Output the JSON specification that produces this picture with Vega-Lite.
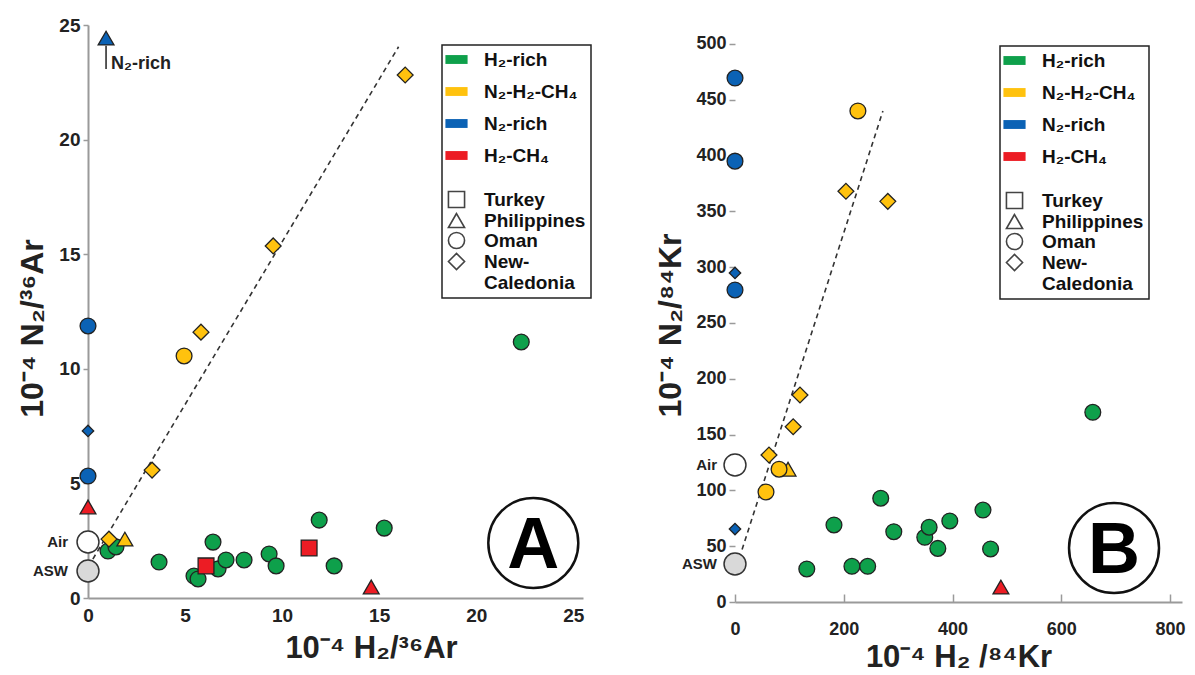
{
  "$schema": "https://vega.github.io/schema/vega-lite/v6.json",
  "background": "white",
  "padding": {"left": 16, "top": 16, "right": 5, "bottom": 3},
  "config": {
    "view": {"stroke": null},
    "font": "Liberation Sans",
    "axis": {"grid": false, "labelFont": "Liberation Sans", "titleFont": "Liberation Sans", "labelFontWeight": "bold", "titleFontWeight": "bold", "labelColor": "#222", "titleColor": "#222", "domainColor": "#9a9a9a", "domainWidth": 2, "tickColor": "#9a9a9a", "tickWidth": 1.5, "labelOverlap": false, "labelFlush": false},
    "legend": {
      "orient": "none", "strokeColor": "#222", "strokeWidth": 1.5, "padding": 5, "fillColor": "#ffffff",
      "labelFont": "Liberation Sans", "labelFontWeight": "bold", "labelFontSize": 19, "labelColor": "#111", "labelOffset": 18, "rowPadding": -4,
      "symbolSize": 260, "symbolOpacity": 1, "symbolStrokeWidth": 1.6
    }
  },
  "datasets": {
    "a_pts": [
      {"group": "H₂-rich", "country": "Oman", "x": 1.03, "y": 2.05},
      {"group": "H₂-rich", "country": "Oman", "x": 1.44, "y": 2.23},
      {"group": "H₂-rich", "country": "Oman", "x": 3.66, "y": 1.57},
      {"group": "H₂-rich", "country": "Oman", "x": 5.46, "y": 0.96},
      {"group": "H₂-rich", "country": "Oman", "x": 5.67, "y": 0.83},
      {"group": "H₂-rich", "country": "Oman", "x": 6.44, "y": 2.44},
      {"group": "H₂-rich", "country": "Oman", "x": 6.7, "y": 1.27},
      {"group": "H₂-rich", "country": "Oman", "x": 7.11, "y": 1.66},
      {"group": "H₂-rich", "country": "Oman", "x": 8.04, "y": 1.66},
      {"group": "H₂-rich", "country": "Oman", "x": 9.33, "y": 1.92},
      {"group": "H₂-rich", "country": "Oman", "x": 9.69, "y": 1.4},
      {"group": "H₂-rich", "country": "Oman", "x": 11.91, "y": 3.4},
      {"group": "H₂-rich", "country": "Oman", "x": 12.68, "y": 1.4},
      {"group": "H₂-rich", "country": "Oman", "x": 15.26, "y": 3.05},
      {"group": "H₂-rich", "country": "Oman", "x": 22.32, "y": 11.17},
      {"group": "N₂-H₂-CH₄", "country": "New-Caledonia", "x": 1.08, "y": 2.57},
      {"group": "N₂-H₂-CH₄", "country": "Philippines", "x": 1.9, "y": 2.57},
      {"group": "N₂-H₂-CH₄", "country": "New-Caledonia", "x": 3.3, "y": 5.58},
      {"group": "N₂-H₂-CH₄", "country": "Oman", "x": 4.95, "y": 10.56},
      {"group": "N₂-H₂-CH₄", "country": "New-Caledonia", "x": 5.82, "y": 11.6},
      {"group": "N₂-H₂-CH₄", "country": "New-Caledonia", "x": 9.54, "y": 15.36},
      {"group": "N₂-H₂-CH₄", "country": "New-Caledonia", "x": 16.34, "y": 22.82},
      {"group": "N₂-rich", "country": "Philippines", "x": 0.93, "y": 24.43},
      {"group": "N₂-rich", "country": "Oman", "x": 0, "y": 11.87},
      {"group": "N₂-rich", "country": "New-Caledonia", "x": 0, "y": 7.29},
      {"group": "N₂-rich", "country": "Oman", "x": 0, "y": 5.32},
      {"group": "H₂-CH₄", "country": "Philippines", "x": 0, "y": 3.97},
      {"group": "H₂-CH₄", "country": "Turkey", "x": 6.08, "y": 1.4},
      {"group": "H₂-CH₄", "country": "Turkey", "x": 11.39, "y": 2.18},
      {"group": "H₂-CH₄", "country": "Philippines", "x": 14.59, "y": 0.48}
    ],
    "b_pts": [
      {"group": "H₂-rich", "country": "Oman", "x": 268, "y": 93},
      {"group": "H₂-rich", "country": "Oman", "x": 182, "y": 69},
      {"group": "H₂-rich", "country": "Oman", "x": 292, "y": 63},
      {"group": "H₂-rich", "country": "Oman", "x": 132, "y": 29.6},
      {"group": "H₂-rich", "country": "Oman", "x": 215, "y": 32},
      {"group": "H₂-rich", "country": "Oman", "x": 244, "y": 32},
      {"group": "H₂-rich", "country": "Oman", "x": 349, "y": 58},
      {"group": "H₂-rich", "country": "Oman", "x": 357, "y": 67},
      {"group": "H₂-rich", "country": "Oman", "x": 373, "y": 48},
      {"group": "H₂-rich", "country": "Oman", "x": 395, "y": 72.6},
      {"group": "H₂-rich", "country": "Oman", "x": 456, "y": 82.4},
      {"group": "H₂-rich", "country": "Oman", "x": 470, "y": 47.5},
      {"group": "H₂-rich", "country": "Oman", "x": 658, "y": 170},
      {"group": "N₂-H₂-CH₄", "country": "Oman", "x": 226, "y": 440},
      {"group": "N₂-H₂-CH₄", "country": "New-Caledonia", "x": 204, "y": 368},
      {"group": "N₂-H₂-CH₄", "country": "New-Caledonia", "x": 281, "y": 359},
      {"group": "N₂-H₂-CH₄", "country": "New-Caledonia", "x": 119.5, "y": 185.5},
      {"group": "N₂-H₂-CH₄", "country": "New-Caledonia", "x": 107, "y": 157},
      {"group": "N₂-H₂-CH₄", "country": "New-Caledonia", "x": 62.5, "y": 131.7},
      {"group": "N₂-H₂-CH₄", "country": "Philippines", "x": 97.5, "y": 119},
      {"group": "N₂-H₂-CH₄", "country": "Oman", "x": 81, "y": 119},
      {"group": "N₂-H₂-CH₄", "country": "Oman", "x": 57, "y": 98.6},
      {"group": "N₂-rich", "country": "Oman", "x": 0, "y": 469.5},
      {"group": "N₂-rich", "country": "Oman", "x": 0, "y": 395},
      {"group": "N₂-rich", "country": "New-Caledonia", "x": 0, "y": 294.8},
      {"group": "N₂-rich", "country": "Oman", "x": 0, "y": 279.6},
      {"group": "N₂-rich", "country": "New-Caledonia", "x": 0, "y": 65.4},
      {"group": "H₂-CH₄", "country": "Philippines", "x": 489, "y": 13.4}
    ],
    "a_refs": [
      {"label": "Air", "x": 0, "y": 2.44},
      {"label": "ASW", "x": 0, "y": 1.18}
    ],
    "b_refs": [
      {"label": "Air", "x": 0, "y": 122.8},
      {"label": "ASW", "x": 0, "y": 34}
    ],
    "a_line": [{"x": 0.25, "y": 1.7}, {"x": 16.0, "y": 24.05}],
    "b_line": [{"x": 13, "y": 47}, {"x": 272, "y": 440}],
    "a_arrow": [{"x": 0.93, "y": 23.08, "y2": 24.1}],
    "a_note": [{"x": 0.93, "y": 23.3, "label": "N₂-rich"}],
    "a_badge": [{"x": 22.94, "y": 2.4, "label": "A"}],
    "b_badge": [{"x": 697, "y": 48.4, "label": "B"}]
  },
  "resolve": {
    "scale": {"x": "independent", "y": "independent", "fill": "shared", "stroke": "shared", "shape": "shared"},
    "legend": {"fill": "independent", "stroke": "independent", "shape": "independent"}
  },
  "spacing": 62,
  "hconcat": [
    {
      "width": 495,
      "height": 573,
      "encoding": {
        "x": {"field": "x", "type": "quantitative", "scale": {"domain": [0, 25.5], "nice": false, "zero": true},
          "axis": {"values": [0, 5, 10, 15, 20, 25], "title": "10⁻⁴ H₂/³⁶Ar", "ticks": false, "labelPadding": 8, "labelFontSize": 19, "titleFontSize": 31, "titlePadding": 8, "titleX": 283}},
        "y": {"field": "y", "type": "quantitative", "scale": {"domain": [0, 25], "nice": false, "zero": true},
          "axis": {"values": [0, 5, 10, 15, 20, 25], "title": "10⁻⁴ N₂/³⁶Ar", "tickSize": 5, "labelPadding": 3, "labelFontSize": 19, "titleFontSize": 32, "titlePadding": 9, "titleY": 303}}
      },
      "layer": [
        {"data": {"name": "a_line"}, "mark": {"type": "line", "strokeDash": [5, 4], "color": "#333", "strokeWidth": 1.6}},
        {"data": {"name": "a_refs"}, "mark": {"type": "point", "shape": "circle", "filled": true, "size": 480, "stroke": "#333", "strokeWidth": 1.5, "opacity": 1},
          "encoding": {"fill": {"condition": {"test": "datum.label == 'Air'", "value": "#ffffff"}, "value": "#d9d9d9"}}},
        {"data": {"name": "a_refs"}, "mark": {"type": "text", "align": "right", "baseline": "middle", "dx": -20, "fontWeight": "bold", "fontSize": 15, "color": "#222"},
          "encoding": {"text": {"field": "label"}}},
        {"data": {"name": "a_arrow"}, "mark": {"type": "rule", "color": "#222", "strokeWidth": 1.5}, "encoding": {"y2": {"field": "y2"}}},
        {"data": {"name": "a_note"}, "mark": {"type": "text", "align": "left", "baseline": "middle", "dx": 5, "fontWeight": "bold", "fontSize": 18, "color": "#222"},
          "encoding": {"text": {"field": "label"}}},
        {"data": {"name": "a_pts"}, "mark": {"type": "point", "filled": true, "opacity": 0},
          "encoding": {
            "fill": {"field": "group", "type": "nominal", "legend": {"legendX": 354, "legendY": 20, "title": null, "labelExpr": "datum.label == 'New-Caledonia' ? ['New-', 'Caledonia'] : datum.label"}},
            "stroke": {"field": "group", "type": "nominal",
              "scale": {"domain": ["H₂-rich", "N₂-H₂-CH₄", "N₂-rich", "H₂-CH₄", "Turkey", "Philippines", "Oman", "New-Caledonia"],
                "range": ["transparent", "transparent", "transparent", "transparent", "#444444", "#444444", "#444444", "#444444"]},
              "legend": {"legendX": 354, "legendY": 20, "title": null, "labelExpr": "datum.label == 'New-Caledonia' ? ['New-', 'Caledonia'] : datum.label"}},
            "shape": {"field": "group", "type": "nominal", "legend": {"legendX": 354, "legendY": 20, "title": null, "labelExpr": "datum.label == 'New-Caledonia' ? ['New-', 'Caledonia'] : datum.label"}}
          }},
        {"data": {"name": "a_pts"}, "mark": {"type": "point", "filled": true, "stroke": "#222", "strokeWidth": 1.3, "opacity": 1},
          "encoding": {
            "fill": {"field": "group", "type": "nominal",
              "scale": {"domain": ["H₂-rich", "N₂-H₂-CH₄", "N₂-rich", "H₂-CH₄", "Turkey", "Philippines", "Oman", "New-Caledonia"],
                "range": ["#0ea04b", "#ffc20e", "#0b62b5", "#ec1c24", "#ffffff", "#ffffff", "#ffffff", "#ffffff"]},
              "legend": {"legendX": 354, "legendY": 20, "title": null, "labelExpr": "datum.label == 'New-Caledonia' ? ['New-', 'Caledonia'] : datum.label"}},
            "shape": {"field": "country", "type": "nominal",
              "scale": {"domain": ["H₂-rich", "N₂-H₂-CH₄", "N₂-rich", "H₂-CH₄", "Turkey", "Philippines", "Oman", "New-Caledonia"],
                "range": ["M-1.375,-0.55H1.375V0.55H-1.375Z M0,-1.97 M0,1.64", "M-1.375,-0.55H1.375V0.55H-1.375Z M0,-1.97 M0,1.64", "M-1.375,-0.55H1.375V0.55H-1.375Z M0,-1.97 M0,1.64", "M-1.375,-0.55H1.375V0.55H-1.375Z M0,-1.97 M0,3.87", "square", "triangle-up", "circle", "diamond"]},
              "legend": {"legendX": 354, "legendY": 20, "title": null, "labelExpr": "datum.label == 'New-Caledonia' ? ['New-', 'Caledonia'] : datum.label"}},
            "size": {"condition": {"test": "datum.group == 'N₂-rich' && datum.country == 'New-Caledonia'", "value": 130}, "value": 250}
          }},
        {"data": {"name": "a_badge"}, "mark": {"type": "point", "shape": "circle", "filled": false, "size": 8100, "stroke": "#111", "strokeWidth": 2.5, "opacity": 1}},
        {"data": {"name": "a_badge"}, "mark": {"type": "text", "align": "center", "baseline": "middle", "dy": 3, "fontWeight": "bold", "fontSize": 72, "color": "#000"},
          "encoding": {"text": {"field": "label"}}}
      ]
    },
    {
      "width": 447,
      "height": 577,
      "encoding": {
        "x": {"field": "x", "type": "quantitative", "scale": {"domain": [0, 822], "nice": false, "zero": true},
          "axis": {"values": [0, 200, 400, 600, 800], "title": "10⁻⁴  H₂ /⁸⁴Kr", "tickSize": -8, "labelPadding": 26, "labelFontSize": 18, "titleFontSize": 31, "titlePadding": 4}},
        "y": {"field": "y", "type": "quantitative", "scale": {"domain": [0, 517], "nice": false, "zero": true},
          "axis": {"values": [0, 50, 100, 150, 200, 250, 300, 350, 400, 450, 500], "title": "10⁻⁴ N₂/⁸⁴Kr", "domain": false, "tickSize": 6, "labelPadding": 3, "labelFontSize": 18, "titleFontSize": 32, "titlePadding": 8, "titleY": 300}}
      },
      "layer": [
        {"mark": {"type": "rule", "color": "#9a9a9a", "strokeWidth": 2}, "encoding": {"x": {"datum": 0}, "y": {"datum": 0}, "y2": {"datum": 500}}},
        {"data": {"name": "b_line"}, "mark": {"type": "line", "strokeDash": [5, 4], "color": "#333", "strokeWidth": 1.6}},
        {"data": {"name": "b_refs"}, "mark": {"type": "point", "shape": "circle", "filled": true, "size": 480, "stroke": "#333", "strokeWidth": 1.5, "opacity": 1},
          "encoding": {"fill": {"condition": {"test": "datum.label == 'Air'", "value": "#ffffff"}, "value": "#d9d9d9"}}},
        {"data": {"name": "b_refs"}, "mark": {"type": "text", "align": "right", "baseline": "middle", "dx": -18, "fontWeight": "bold", "fontSize": 15, "color": "#222"},
          "encoding": {"text": {"field": "label"}}},
        {"data": {"name": "b_pts"}, "mark": {"type": "point", "filled": true, "opacity": 0},
          "encoding": {
            "fill": {"field": "group", "type": "nominal", "legend": {"legendX": 265, "legendY": 21, "title": null, "labelExpr": "datum.label == 'New-Caledonia' ? ['New-', 'Caledonia'] : datum.label"}},
            "stroke": {"field": "group", "type": "nominal",
              "scale": {"domain": ["H₂-rich", "N₂-H₂-CH₄", "N₂-rich", "H₂-CH₄", "Turkey", "Philippines", "Oman", "New-Caledonia"],
                "range": ["transparent", "transparent", "transparent", "transparent", "#444444", "#444444", "#444444", "#444444"]},
              "legend": {"legendX": 265, "legendY": 21, "title": null, "labelExpr": "datum.label == 'New-Caledonia' ? ['New-', 'Caledonia'] : datum.label"}},
            "shape": {"field": "group", "type": "nominal", "legend": {"legendX": 265, "legendY": 21, "title": null, "labelExpr": "datum.label == 'New-Caledonia' ? ['New-', 'Caledonia'] : datum.label"}}
          }},
        {"data": {"name": "b_pts"}, "mark": {"type": "point", "filled": true, "stroke": "#222", "strokeWidth": 1.3, "opacity": 1},
          "encoding": {
            "fill": {"field": "group", "type": "nominal",
              "scale": {"domain": ["H₂-rich", "N₂-H₂-CH₄", "N₂-rich", "H₂-CH₄", "Turkey", "Philippines", "Oman", "New-Caledonia"],
                "range": ["#0ea04b", "#ffc20e", "#0b62b5", "#ec1c24", "#ffffff", "#ffffff", "#ffffff", "#ffffff"]},
              "legend": {"legendX": 265, "legendY": 21, "title": null, "labelExpr": "datum.label == 'New-Caledonia' ? ['New-', 'Caledonia'] : datum.label"}},
            "shape": {"field": "country", "type": "nominal",
              "scale": {"domain": ["H₂-rich", "N₂-H₂-CH₄", "N₂-rich", "H₂-CH₄", "Turkey", "Philippines", "Oman", "New-Caledonia"],
                "range": ["M-1.375,-0.55H1.375V0.55H-1.375Z M0,-1.97 M0,1.64", "M-1.375,-0.55H1.375V0.55H-1.375Z M0,-1.97 M0,1.64", "M-1.375,-0.55H1.375V0.55H-1.375Z M0,-1.97 M0,1.64", "M-1.375,-0.55H1.375V0.55H-1.375Z M0,-1.97 M0,3.87", "square", "triangle-up", "circle", "diamond"]},
              "legend": {"legendX": 265, "legendY": 21, "title": null, "labelExpr": "datum.label == 'New-Caledonia' ? ['New-', 'Caledonia'] : datum.label"}},
            "size": {"condition": {"test": "datum.group == 'N₂-rich' && datum.country == 'New-Caledonia'", "value": 130}, "value": 250}
          }},
        {"data": {"name": "b_badge"}, "mark": {"type": "point", "shape": "circle", "filled": false, "size": 8100, "stroke": "#111", "strokeWidth": 2.5, "opacity": 1}},
        {"data": {"name": "b_badge"}, "mark": {"type": "text", "align": "center", "baseline": "middle", "dy": 3, "fontWeight": "bold", "fontSize": 72, "color": "#000"},
          "encoding": {"text": {"field": "label"}}}
      ]
    }
  ]
}
